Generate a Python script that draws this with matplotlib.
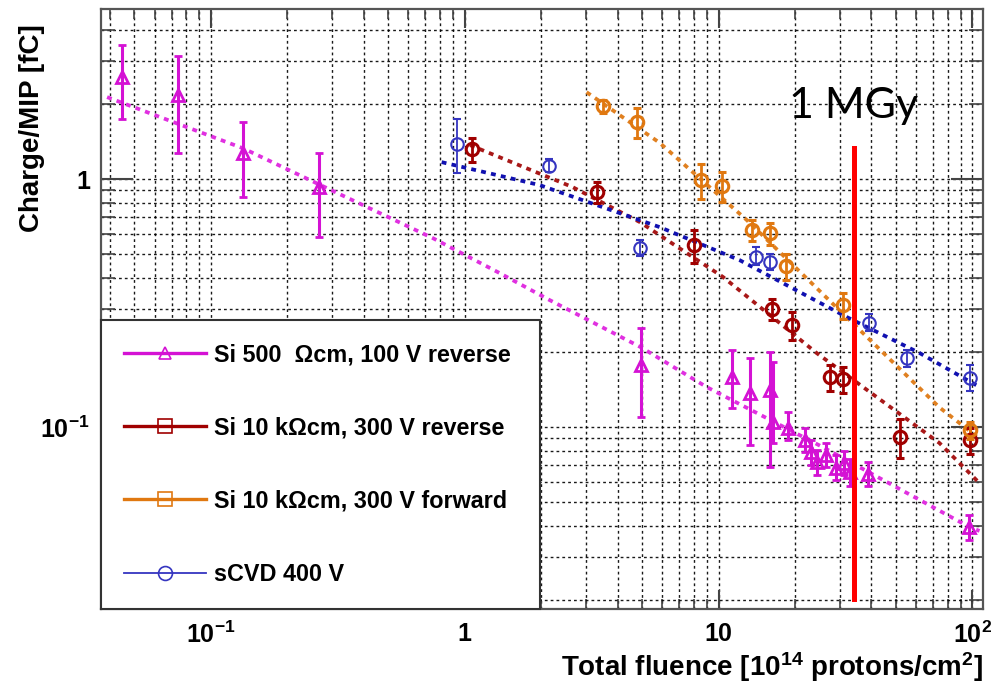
import matplotlib
matplotlib.use('Agg')
import numpy as np
import matplotlib.pyplot as plt
from matplotlib.lines import Line2D
from matplotlib.ticker import LogLocator, NullFormatter

plt.rcParams['font.family'] = ['Liberation Sans', 'DejaVu Sans']
plt.rcParams['font.weight'] = 'bold'
plt.rcParams['axes.labelweight'] = 'bold'
plt.rcParams['mathtext.fontset'] = 'custom'
plt.rcParams['mathtext.rm'] = 'Liberation Sans:bold'
plt.rcParams['mathtext.it'] = 'Liberation Sans:bold'
plt.rcParams['mathtext.bf'] = 'Liberation Sans:bold'

# Si 500 Ohm cm, 100 V reverse
si500_x = [0.0447, 0.0741, 0.134, 0.266, 4.93, 11.25, 13.24, 16.0, 16.4, 18.7,
           21.8, 23.2, 24.5, 26.4, 28.9, 31.3, 32.8, 38.6, 97.0]
si500_y = [2.58, 2.18, 1.27, 0.929, 0.178, 0.159, 0.137, 0.141, 0.105, 0.0994,
           0.0887, 0.0793, 0.0722, 0.0771, 0.0684, 0.0716, 0.0659, 0.0646, 0.0395]
si500_lo = [1.75, 1.27, 0.846, 0.583, 0.110, 0.119, 0.0846, 0.0690, 0.0862, 0.0887,
            0.079, 0.070, 0.064, 0.069, 0.061, 0.064, 0.058, 0.058, 0.035]
si500_hi = [3.47, 3.13, 1.70, 1.27, 0.251, 0.204, 0.190, 0.200, 0.183, 0.115,
            0.099, 0.089, 0.081, 0.086, 0.077, 0.080, 0.074, 0.072, 0.044]

# Si 10 kOhm cm, 300 V reverse
rev_x = [1.07, 3.31, 7.97, 16.3, 19.4, 27.4, 31.0, 51.6, 98.0]
rev_y = [1.32, 0.887, 0.542, 0.299, 0.258, 0.159, 0.156, 0.0912, 0.0887]
rev_err = [0.11, 0.10, 0.15, 0.10, 0.13, 0.12, 0.12, 0.18, 0.12]

# Si 10 kOhm cm, 300 V forward
fwd_x = [3.49, 4.75, 8.49, 10.3, 13.5, 15.9, 18.4, 30.8, 98.0]
fwd_y = [1.97, 1.70, 0.99, 0.94, 0.623, 0.605, 0.446, 0.310, 0.0973]
fwd_err = [0.06, 0.14, 0.16, 0.14, 0.10, 0.10, 0.12, 0.12, 0.08]

# sCVD 400 V
cvd_x = [0.93, 2.14, 4.89, 14.1, 15.9, 39.3, 55.0, 98.0]
cvd_y = [1.38, 1.13, 0.527, 0.485, 0.463, 0.263, 0.190, 0.158]
cvd_lo = [1.06, 1.07, 0.49, 0.45, 0.43, 0.245, 0.175, 0.140]
cvd_hi = [1.75, 1.21, 0.57, 0.53, 0.50, 0.285, 0.205, 0.178]

# fit curves
fit500_x = [0.0390, 0.134, 0.286, 0.748, 1.37, 2.16, 4.93, 8.97, 25.7, 97.3, 106.6]
fit500_y = [2.14, 1.33, 0.920, 0.578, 0.418, 0.325, 0.210, 0.145, 0.0830, 0.0395, 0.0381]
fitrev_x = [1.05, 2.66, 4.89, 10.4, 24.3, 74.1, 106.6]
fitrev_y = [1.37, 0.928, 0.671, 0.403, 0.199, 0.0862, 0.0594]
fitfwd_x = [3.02, 5.86, 12.9, 29.9, 74.1, 104.6]
fitfwd_y = [2.24, 1.40, 0.684, 0.296, 0.120, 0.0911]
fitcvd_x = [0.811, 1.97, 5.86, 12.1, 31.9, 61.8, 106.6]
fitcvd_y = [1.17, 0.946, 0.640, 0.471, 0.278, 0.199, 0.145]

# 1 MGy marker
mgy_x = 34.0
mgy_y = [0.0202, 1.33]
mgy_text_y = 1.76

labels = ['Si 500  \u03a9cm, 100 V reverse', 'Si 10 k\u03a9cm, 300 V reverse',
          'Si 10 k\u03a9cm, 300 V forward', 'sCVD 400 V']
xtick_vals = [0.1, 1, 10, 100]
xtick_labels = ['$10^{-1}$', '1', '10', '$10^{2}$']
ytick_vals = [0.1, 1]
ytick_labels = ['$10^{-1}$', '1']

c500, c500fit = '#D412D4', '#E030E0'
crev, crevfit = '#A00000', '#A81818'
cfwd, cfwdfit = '#E07810', '#E08020'
ccvd, ccvdfit = '#3535C0', '#1010B0'

fig = plt.figure(figsize=(9.94, 6.83), dpi=100)
ax = fig.add_axes([0.1016, 0.1083, 0.8873, 0.8785])
ax.set_xscale('log')
ax.set_yscale('log')
ax.set_xlim(0.0369, 110)
ax.set_ylim(0.01845, 4.85)

dots = (0, (1.3, 1.4))
ax.plot(fit500_x, fit500_y, color=c500fit, lw=2.7, ls=dots, zorder=2)
ax.plot(fitrev_x, fitrev_y, color=crevfit, lw=2.7, ls=dots, zorder=2)
ax.plot(fitfwd_x, fitfwd_y, color=cfwdfit, lw=2.7, ls=dots, zorder=2)
ax.plot(fitcvd_x, fitcvd_y, color=ccvdfit, lw=2.7, ls=dots, zorder=2)

y = np.array(si500_y)
ax.errorbar(si500_x, si500_y, yerr=[y - np.array(si500_lo), np.array(si500_hi) - y],
            fmt='^', color=c500, mfc='none', mec=c500, ms=8, mew=2,
            elinewidth=2.2, capsize=3, capthick=2.2, zorder=3)
y = np.array(rev_y)
ax.errorbar(rev_x, rev_y, yerr=y * np.array(rev_err), fmt='o', color=crev,
            mfc='none', mec=crev, ms=9, mew=2.2, elinewidth=2, capsize=3,
            capthick=2, zorder=3)
y = np.array(fwd_y)
ax.errorbar(fwd_x, fwd_y, yerr=y * np.array(fwd_err), fmt='o', color=cfwd,
            mfc='none', mec=cfwd, ms=9, mew=2.2, elinewidth=2, capsize=3,
            capthick=2, zorder=3)
y = np.array(cvd_y)
ax.errorbar(cvd_x, cvd_y, yerr=[y - np.array(cvd_lo), np.array(cvd_hi) - y],
            fmt='o', color=ccvd, mfc='none', mec=ccvd, ms=9, mew=1.5,
            elinewidth=1.3, capsize=3, capthick=1.3, zorder=3)

ax.plot([mgy_x, mgy_x], mgy_y, color='#FF0000', lw=3.6, zorder=4)
ax.text(mgy_x, mgy_text_y, '1 MGy', ha='center', va='baseline',
        fontsize=31, fontweight='normal', family=['Lato', 'DejaVu Sans'], zorder=4)

# axes / ticks in ROOT style
ax.xaxis.set_minor_locator(LogLocator(base=10, subs=range(2, 10), numticks=20))
ax.yaxis.set_minor_locator(LogLocator(base=10, subs=range(2, 10), numticks=20))
ax.set_xticks(xtick_vals, xtick_labels)
ax.set_yticks(ytick_vals, ytick_labels)
ax.xaxis.set_minor_formatter(NullFormatter())
ax.yaxis.set_minor_formatter(NullFormatter())
ax.tick_params(which='both', direction='in', top=True, right=True, color='#444444')
ax.tick_params(axis='x', which='major', length=14, width=1.5, labelsize=18, pad=9)
ax.tick_params(axis='x', which='minor', length=7, width=1.2)
ax.tick_params(axis='y', which='major', length=23, width=1.5, labelsize=18, pad=8)
ax.tick_params(axis='y', which='minor', length=10, width=1.2)
for s in ax.spines.values():
    s.set_color('#555555')
    s.set_linewidth(1.6)
ax.set_axisbelow(True)
ax.grid(True, which='both', color='black', ls=(0, (2, 2.2)), lw=1.0, alpha=0.9)

ax.set_xlabel('Total fluence [10$^{14}$ protons/cm$^{2}$]', fontsize=20, loc='right')
ax.xaxis.set_label_coords(1.0, -0.068)
ax.set_ylabel('Charge/MIP [fC]', fontsize=20, loc='top')
ax.yaxis.set_label_coords(-0.064, 0.975)

handles = [
    Line2D([], [], color=c500, lw=2.4, marker='^', mfc='none', mec=c500, ms=9, mew=1.2),
    Line2D([], [], color=crev, lw=2.4, marker='s', mfc='none', mec=crev, ms=10, mew=1.2),
    Line2D([], [], color=cfwd, lw=2.4, marker='s', mfc='none', mec=cfwd, ms=10, mew=1.2),
    Line2D([], [], color=ccvd, lw=1.3, marker='o', mfc='none', mec=ccvd, ms=10, mew=1.2),
]
leg = ax.legend(handles, labels, loc='lower left', bbox_to_anchor=(0, 0, 0.498, 0.48),
                mode='expand', borderaxespad=0, fontsize=16.8, labelspacing=2.15,
                borderpad=1.0, handlelength=3.5, handletextpad=0.35, fancybox=False,
                edgecolor='#333333', framealpha=1)
leg.get_frame().set_linewidth(1.5)

fig.savefig('out.png', dpi=100)
